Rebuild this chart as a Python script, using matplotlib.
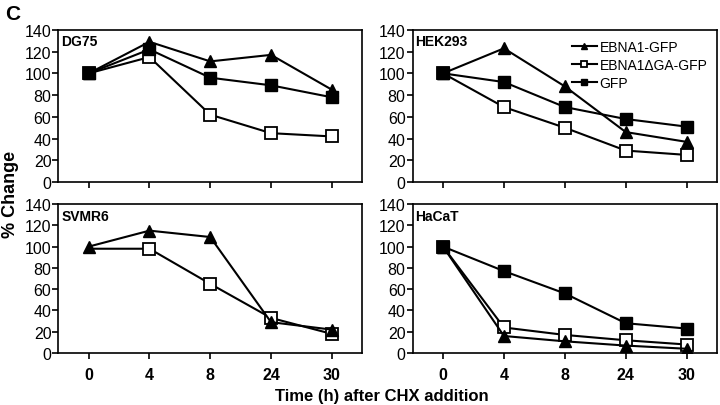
import numpy as np
import matplotlib.pyplot as plt

plt.rcParams['font.family'] = ['Liberation Sans', 'DejaVu Sans']

times = ['0', '4', '8', '24', '30']

# DG75
dg75_ebna1 = [100, 129, 111, 117, 85]
dg75_dga = [100, 115, 62, 45, 42]
dg75_gfp = [100, 122, 96, 89, 78]

# HEK293
hek_ebna1 = [100, 123, 88, 46, 37]
hek_dga = [100, 69, 50, 29, 25]
hek_gfp = [100, 92, 69, 58, 51]

# SVMR6 (no GFP)
svmr_ebna1 = [100, 115, 109, 29, 22]
svmr_dga = [98, 98, 65, 33, 18]

# HaCaT
hacat_ebna1 = [100, 16, 11, 7, 4]
hacat_dga = [100, 24, 17, 12, 8]
hacat_gfp = [100, 77, 56, 28, 23]

fig = plt.figure(figsize=(7.2, 4.06), dpi=100)

pos = {
    'DG75':   [0.081, 0.549, 0.422, 0.375],
    'HEK293': [0.573, 0.549, 0.423, 0.375],
    'SVMR6':  [0.081, 0.128, 0.422, 0.367],
    'HaCaT':  [0.573, 0.128, 0.423, 0.367],
}

panels = {
    'DG75':   (dg75_ebna1, dg75_dga, dg75_gfp),
    'HEK293': (hek_ebna1, hek_dga, hek_gfp),
    'SVMR6':  (svmr_ebna1, svmr_dga, None),
    'HaCaT':  (hacat_ebna1, hacat_dga, hacat_gfp),
}

x = np.arange(len(times))
for name, (e1, dga, gfp) in panels.items():
    ax = fig.add_axes(pos[name])
    # SVMR6: first open-square point hidden under the triangle
    mevery = [1, 2, 3, 4] if name == 'SVMR6' else None
    ax.plot(x, dga, color='black', lw=1.5, marker='s', ms=8, mfc='white',
            mec='black', mew=1.3, markevery=mevery,
            label='EBNA1\u0394GA-GFP', zorder=3)
    if gfp is not None:
        ax.plot(x, gfp, color='black', lw=1.5, marker='s', ms=8, mfc='black',
                mec='black', label='GFP', zorder=3)
    ax.plot(x, e1, color='black', lw=1.5, marker='^', ms=8, mfc='black',
            mec='black', label='EBNA1-GFP', zorder=4)
    ax.set_xlim(-0.5, 4.5)
    ax.set_ylim(0, 140)
    ax.set_yticks(range(0, 141, 20))
    ax.set_xticks(x)
    ax.tick_params(axis='y', direction='out', length=4, width=1.2,
                   labelsize=11.5, pad=1)
    ax.tick_params(axis='x', direction='out', length=4, width=1.2,
                   labelsize=11.5, pad=6)
    for s in ax.spines.values():
        s.set_linewidth(1.2)
    if name in ('DG75', 'HEK293'):
        ax.set_xticklabels([])
    else:
        ax.set_xticklabels(times, fontweight='bold')
    ax.text(0.01, 0.97, name, transform=ax.transAxes, fontsize=10,
            fontweight='bold', va='top', ha='left')
    if name == 'HEK293':
        h, l = ax.get_legend_handles_labels()
        order = [2, 0, 1]
        ax.legend([h[i] for i in order], [l[i] for i in order],
                  loc='upper right', frameon=False, fontsize=10,
                  handlelength=1.8, markerscale=0.6, handletextpad=0.2,
                  labelspacing=0.3, borderaxespad=0.3)

fig.text(0.007, 0.965, 'C', fontsize=15, fontweight='bold', va='center')
fig.text(0.015, 0.52, '% Change', rotation=90, fontsize=13,
         fontweight='bold', va='center', ha='center')
fig.text(0.53, 0.024, 'Time (h) after CHX addition', fontsize=12,
         fontweight='bold', ha='center', va='center')

fig.savefig('out.png', dpi=100)
